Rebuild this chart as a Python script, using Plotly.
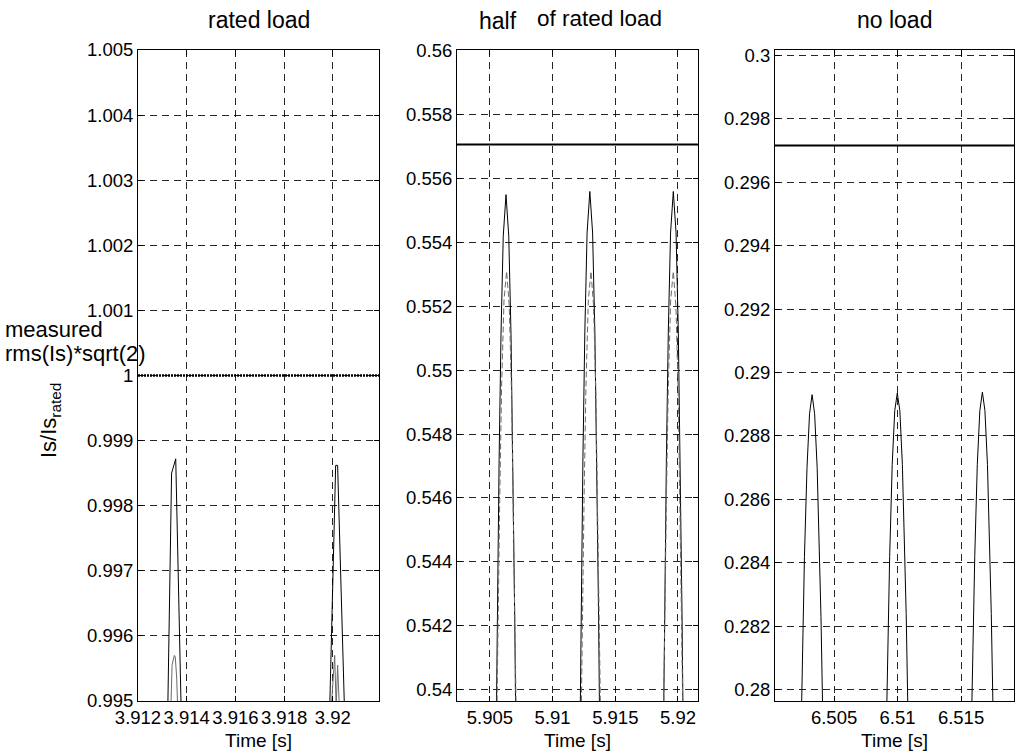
import plotly.graph_objects as go

# ---------------- data ----------------
# panel 1: rated load
t1_sim = [3.91322, 3.91330, 3.91338, 3.91355, 3.91363, 3.91377, None,
          3.91987, 3.92000, 3.92012, 3.92020, 3.92031, 3.92048]
i1_sim = [0.9948, 0.9966, 0.99850, 0.99872, 0.9973, 0.9949, None,
          0.9948, 0.9968, 0.99862, 0.99862, 0.9972, 0.9949]
t1_cmp = [3.91335, 3.91340, 3.91349, 3.91353, 3.91359, 3.91363, None,
          3.91994, 3.92008, 3.92014, 3.92020, 3.92027]
i1_cmp = [0.9949, 0.99555, 0.99570, 0.99568, 0.99535, 0.9949, None,
          0.9949, 0.99570, 0.9949, 0.99555, 0.9949]

# panel 2: half of rated load
t2_sim = [5.90548, 5.90558, 5.90573, 5.90588, 5.90606, 5.90628, 5.90650, 5.90668, 5.90683, 5.90698, 5.90708, None,
          5.91217, 5.91227, 5.91242, 5.91257, 5.91275, 5.91297, 5.91319, 5.91337, 5.91352, 5.91367, 5.91377, None,
          5.91883, 5.91893, 5.91908, 5.91923, 5.91941, 5.91963, 5.91985, 5.92003, 5.92018, 5.92033, 5.92043]
i2_sim = [0.5380, 0.5421, 0.5472, 0.5511, 0.5542, 0.5555, 0.5542, 0.5511, 0.5472, 0.5421, 0.5380, None,
          0.5381, 0.5422, 0.5473, 0.5512, 0.5543, 0.5556, 0.5543, 0.5512, 0.5473, 0.5422, 0.5381, None,
          0.5381, 0.5422, 0.5473, 0.5512, 0.5543, 0.5556, 0.5543, 0.5512, 0.5473, 0.5422, 0.5381]
t2_cmp = [5.90553, 5.90563, 5.90578, 5.90593, 5.90612, 5.90633, 5.90654, 5.90672, 5.90687, 5.90702, 5.90712, None,
          5.91226, 5.91236, 5.91251, 5.91266, 5.91285, 5.91306, 5.91327, 5.91345, 5.91360, 5.91375, 5.91385, None,
          5.91883, 5.91893, 5.91908, 5.91923, 5.91942, 5.91963, 5.91984, 5.92002, 5.92017, 5.92032, 5.92042]
i2_cmp = [0.5385, 0.5418, 0.5460, 0.5495, 0.5522, 0.5531, 0.5520, 0.5493, 0.5458, 0.5416, 0.5385, None,
          0.5385, 0.5418, 0.5460, 0.5495, 0.5522, 0.5531, 0.5520, 0.5493, 0.5458, 0.5416, 0.5385, None,
          0.5385, 0.5418, 0.5460, 0.5495, 0.5522, 0.5531, 0.5520, 0.5493, 0.5458, 0.5416, 0.5385]

# panel 3: no load
t3_sim = [6.50242, 6.50257, 6.50267, 6.50287, 6.50307, 6.50327, 6.50347, 6.50367, 6.50387, 6.50397, 6.50412, None,
          6.50913, 6.50928, 6.50938, 6.50958, 6.50978, 6.50998, 6.51018, 6.51038, 6.51058, 6.51068, 6.51083, None,
          6.51583, 6.51598, 6.51608, 6.51628, 6.51648, 6.51668, 6.51688, 6.51708, 6.51728, 6.51738, 6.51753]
i3_sim = [0.2790, 0.2823, 0.2842, 0.2870, 0.2887, 0.28930, 0.2887, 0.2870, 0.2842, 0.2823, 0.2790, None,
          0.2790, 0.2824, 0.2842, 0.2871, 0.2888, 0.28935, 0.2888, 0.2871, 0.2842, 0.2824, 0.2790, None,
          0.2791, 0.2824, 0.2842, 0.2871, 0.2888, 0.28938, 0.2888, 0.2871, 0.2842, 0.2824, 0.2791]

# measured rms(Is)*sqrt(2) per panel
rms_level = [1.0, 0.55707, 0.29716]

# axes
x_ranges = [[3.912, 3.9219], [5.90237, 5.9216], [6.50035, 6.51917]]
y_ranges = [[0.995, 1.005], [0.53964, 0.56003], [0.27964, 0.30017]]
x_ticks = [[3.912, 3.914, 3.916, 3.918, 3.92], [5.905, 5.91, 5.915, 5.92], [6.505, 6.51, 6.515]]
x_ticktext = [["3.912", "3.914", "3.916", "3.918", "3.92"], ["5.905", "5.91", "5.915", "5.92"],
              ["6.505", "6.51", "6.515"]]
y_ticks = [[0.995, 0.996, 0.997, 0.998, 0.999, 1.0, 1.001, 1.002, 1.003, 1.004, 1.005],
           [0.54, 0.542, 0.544, 0.546, 0.548, 0.55, 0.552, 0.554, 0.556, 0.558, 0.56],
           [0.28, 0.282, 0.284, 0.286, 0.288, 0.29, 0.292, 0.294, 0.296, 0.298, 0.3]]
y_ticktext = [["0.995", "0.996", "0.997", "0.998", "0.999", "1", "1.001", "1.002", "1.003", "1.004", "1.005"],
              ["0.54", "0.542", "0.544", "0.546", "0.548", "0.55", "0.552", "0.554", "0.556", "0.558", "0.56"],
              ["0.28", "0.282", "0.284", "0.286", "0.288", "0.29", "0.292", "0.294", "0.296", "0.298", "0.3"]]
titles = ["rated load", "half", "of rated load", "no load"]
x_label = "Time [s]"

# ---------------- figure ----------------
FONT = "Liberation Sans, Arial, Helvetica, sans-serif"
ML, MR, MT, MB = 138, 2, 50, 55
W, H = 1016, 756
PW = W - ML - MR
PH = H - MT - MB
domains = [[0, 241 / PW], [319 / PW, 560 / PW], [637 / PW, 1.0]]

fig = go.Figure()
sim = [(t1_sim, i1_sim), (t2_sim, i2_sim), (t3_sim, i3_sim)]
cmp = [(t1_cmp, i1_cmp), (t2_cmp, i2_cmp), None]

for k in range(3):
    xa = "x" if k == 0 else f"x{k+1}"
    ya = "y" if k == 0 else f"y{k+1}"
    fig.add_trace(go.Scatter(
        x=x_ranges[k], y=[rms_level[k], rms_level[k]], mode="lines",
        line=dict(color="black", width=2.5 if k == 0 else 2, dash="2px,1px" if k == 0 else "solid"),
        xaxis=xa, yaxis=ya, showlegend=False, hoverinfo="skip"))
    fig.add_trace(go.Scatter(
        x=sim[k][0], y=sim[k][1], mode="lines",
        line=dict(color="black", width=1), xaxis=xa, yaxis=ya, showlegend=False,
        connectgaps=False))
    if cmp[k] is not None:
        fig.add_trace(go.Scatter(
            x=cmp[k][0], y=cmp[k][1], mode="lines",
            line=dict(color="#6a6a6a", width=1, dash="solid" if k == 0 else "6px,3px"),
            xaxis=xa, yaxis=ya, showlegend=False, connectgaps=False))

axis_common = dict(
    showline=True, linecolor="black", linewidth=1, mirror="ticks",
    ticks="inside", ticklen=5, tickcolor="black", tickwidth=1,
    showgrid=True, gridcolor="rgba(0,0,0,0.85)", gridwidth=1, griddash="7px,5px",
    zeroline=False, tickfont=dict(family=FONT, size=18.5, color="black"),
    automargin=False,
)

layout = dict(
    width=W, height=H, margin=dict(l=ML, r=MR, t=MT, b=MB, autoexpand=False),
    paper_bgcolor="white", plot_bgcolor="white",
    font=dict(family=FONT, color="black"),
)
for k in range(3):
    xk = "xaxis" if k == 0 else f"xaxis{k+1}"
    yk = "yaxis" if k == 0 else f"yaxis{k+1}"
    layout[xk] = dict(axis_common, domain=domains[k], range=x_ranges[k],
                      tickmode="array", tickvals=x_ticks[k], ticktext=x_ticktext[k],
                      anchor="y" if k == 0 else f"y{k+1}",
                      title=dict(text=x_label, font=dict(family=FONT, size=19), standoff=6))
    layout[yk] = dict(axis_common, domain=[0, 1], range=y_ranges[k],
                      tickmode="array", tickvals=y_ticks[k], ticktext=y_ticktext[k],
                      anchor="x" if k == 0 else f"x{k+1}")
fig.update_layout(**layout)


def px_x(p):
    return (p - ML) / PW


def px_y(p):
    return (H - MB - p) / PH


ann = []
ann.append(dict(text=titles[0], x=sum(domains[0]) / 2, y=px_y(20), xref="paper", yref="paper",
                showarrow=False, font=dict(size=23), xanchor="center", yanchor="middle"))
ann.append(dict(text=titles[1], x=px_x(498), y=px_y(21), xref="paper", yref="paper",
                showarrow=False, font=dict(size=23), xanchor="center", yanchor="middle"))
ann.append(dict(text=titles[2], x=px_x(599), y=px_y(19), xref="paper", yref="paper",
                showarrow=False, font=dict(size=22.5), xanchor="center", yanchor="middle"))
ann.append(dict(text=titles[3], x=sum(domains[2]) / 2, y=px_y(20), xref="paper", yref="paper",
                showarrow=False, font=dict(size=23), xanchor="center", yanchor="middle"))
ann.append(dict(text="measured", x=px_x(3), y=px_y(329), xref="paper", yref="paper",
                showarrow=False, font=dict(size=22), xanchor="left", yanchor="middle"))
ann.append(dict(text="rms(Is)*sqrt(2)", x=px_x(3), y=px_y(353), xref="paper", yref="paper",
                showarrow=False, font=dict(size=22), xanchor="left", yanchor="middle"))
ann.append(dict(text="Is/Is<sub>rated</sub>",
                x=px_x(50), y=px_y(421), xref="paper", yref="paper", textangle=-90,
                showarrow=False, font=dict(size=22), xanchor="center", yanchor="middle"))
fig.update_layout(annotations=ann)

fig.write_html("out.html", config={"displayModeBar": False},
               post_script="document.body.style.margin='0px';")
